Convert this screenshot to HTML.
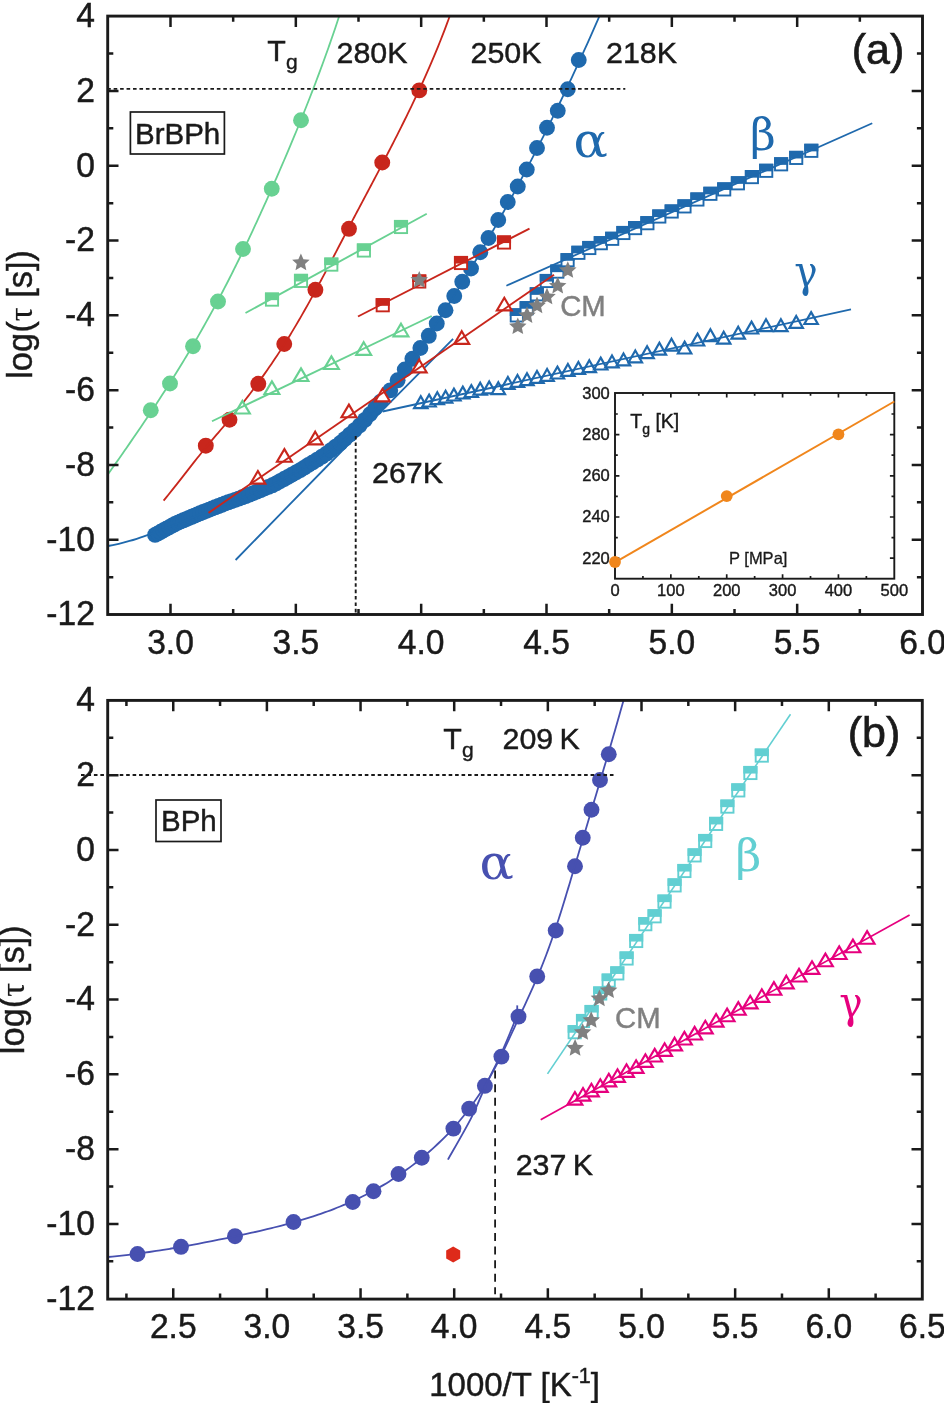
<!DOCTYPE html>
<html lang="en"><head><meta charset="utf-8"><title>Relaxation map: log(τ [s]) versus 1000/T for BrBPh and BPh</title>
<style>
html,body{margin:0;padding:0;background:#fff}
body{width:944px;height:1403px;overflow:hidden}
svg{display:block}
</style></head><body>
<svg width="944" height="1403" viewBox="0 0 944 1403">
<rect width="944" height="1403" fill="#fff"/>
<g id="panelA">
<g id="a-blue">
<circle cx="155.1" cy="534.9" r="7.95" fill="#1f69ad"/>
<circle cx="157.94" cy="533.35" r="7.95" fill="#1f69ad"/>
<circle cx="160.78" cy="531.79" r="7.95" fill="#1f69ad"/>
<circle cx="163.62" cy="530.24" r="7.95" fill="#1f69ad"/>
<circle cx="166.46" cy="528.68" r="7.95" fill="#1f69ad"/>
<circle cx="169.31" cy="527.13" r="7.95" fill="#1f69ad"/>
<circle cx="172.15" cy="525.57" r="7.95" fill="#1f69ad"/>
<circle cx="174.99" cy="524.02" r="7.95" fill="#1f69ad"/>
<circle cx="177.92" cy="522.62" r="7.95" fill="#1f69ad"/>
<circle cx="180.69" cy="521.45" r="7.95" fill="#1f69ad"/>
<circle cx="183.46" cy="520.28" r="7.95" fill="#1f69ad"/>
<circle cx="186.23" cy="519.12" r="7.95" fill="#1f69ad"/>
<circle cx="189" cy="517.95" r="7.95" fill="#1f69ad"/>
<circle cx="191.77" cy="516.78" r="7.95" fill="#1f69ad"/>
<circle cx="194.54" cy="515.62" r="7.95" fill="#1f69ad"/>
<circle cx="197.31" cy="514.45" r="7.95" fill="#1f69ad"/>
<circle cx="200.08" cy="513.28" r="7.95" fill="#1f69ad"/>
<circle cx="203.1" cy="512.05" r="7.95" fill="#1f69ad"/>
<circle cx="206.13" cy="510.87" r="7.95" fill="#1f69ad"/>
<circle cx="209.16" cy="509.69" r="7.95" fill="#1f69ad"/>
<circle cx="212.19" cy="508.5" r="7.95" fill="#1f69ad"/>
<circle cx="215.21" cy="507.32" r="7.95" fill="#1f69ad"/>
<circle cx="218.48" cy="506.05" r="7.95" fill="#1f69ad"/>
<circle cx="221.74" cy="504.77" r="7.95" fill="#1f69ad"/>
<circle cx="225" cy="503.5" r="7.95" fill="#1f69ad"/>
<circle cx="228.3" cy="502.31" r="7.95" fill="#1f69ad"/>
<circle cx="231.6" cy="501.12" r="7.95" fill="#1f69ad"/>
<circle cx="235.14" cy="499.85" r="7.95" fill="#1f69ad"/>
<circle cx="238.68" cy="498.58" r="7.95" fill="#1f69ad"/>
<circle cx="242.22" cy="497.3" r="7.95" fill="#1f69ad"/>
<circle cx="245.75" cy="496.03" r="7.95" fill="#1f69ad"/>
<circle cx="249.53" cy="494.67" r="7.95" fill="#1f69ad"/>
<circle cx="253.23" cy="493.17" r="7.95" fill="#1f69ad"/>
<circle cx="256.92" cy="491.64" r="7.95" fill="#1f69ad"/>
<circle cx="260.62" cy="490.12" r="7.95" fill="#1f69ad"/>
<circle cx="264.54" cy="488.5" r="7.95" fill="#1f69ad"/>
<circle cx="268.46" cy="486.88" r="7.95" fill="#1f69ad"/>
<circle cx="272.38" cy="485.27" r="7.95" fill="#1f69ad"/>
<circle cx="276.18" cy="483.39" r="7.95" fill="#1f69ad"/>
<circle cx="280.11" cy="481.22" r="7.95" fill="#1f69ad"/>
<circle cx="284.03" cy="479.05" r="7.95" fill="#1f69ad"/>
<circle cx="287.96" cy="476.88" r="7.95" fill="#1f69ad"/>
<circle cx="291.88" cy="474.7" r="7.95" fill="#1f69ad"/>
<circle cx="296.03" cy="472.41" r="7.95" fill="#1f69ad"/>
<circle cx="300.15" cy="470.08" r="7.95" fill="#1f69ad"/>
<circle cx="304.21" cy="467.58" r="7.95" fill="#1f69ad"/>
<circle cx="308.48" cy="464.96" r="7.95" fill="#1f69ad"/>
<circle cx="312.75" cy="462.34" r="7.95" fill="#1f69ad"/>
<circle cx="317.23" cy="459.59" r="7.95" fill="#1f69ad"/>
<circle cx="321.93" cy="456.7" r="7.95" fill="#1f69ad"/>
<circle cx="326.48" cy="453.64" r="7.95" fill="#1f69ad"/>
<circle cx="331.03" cy="450.16" r="7.95" fill="#1f69ad"/>
<circle cx="335.57" cy="446.69" r="7.95" fill="#1f69ad"/>
<circle cx="340.32" cy="443.06" r="7.95" fill="#1f69ad"/>
<circle cx="344.98" cy="438.98" r="7.95" fill="#1f69ad"/>
<circle cx="349.71" cy="434.61" r="7.95" fill="#1f69ad"/>
<circle cx="354.66" cy="430.15" r="7.95" fill="#1f69ad"/>
<circle cx="359.7" cy="425.35" r="7.95" fill="#1f69ad"/>
<circle cx="364.89" cy="419.99" r="7.95" fill="#1f69ad"/>
<circle cx="370.02" cy="414.25" r="7.95" fill="#1f69ad"/>
<circle cx="375.27" cy="408.18" r="7.95" fill="#1f69ad"/>
<circle cx="380.67" cy="401.67" r="7.95" fill="#1f69ad"/>
<circle cx="390.2" cy="390.4" r="7.95" fill="#1f69ad"/>
<circle cx="397.6" cy="380.3" r="7.95" fill="#1f69ad"/>
<circle cx="404.8" cy="369.5" r="7.95" fill="#1f69ad"/>
<circle cx="412.4" cy="358.8" r="7.95" fill="#1f69ad"/>
<circle cx="420.4" cy="348" r="7.95" fill="#1f69ad"/>
<circle cx="428.8" cy="335.8" r="7.95" fill="#1f69ad"/>
<circle cx="436.75" cy="323.5" r="7.95" fill="#1f69ad"/>
<circle cx="445.5" cy="310.25" r="7.95" fill="#1f69ad"/>
<circle cx="454.25" cy="296" r="7.95" fill="#1f69ad"/>
<circle cx="462.25" cy="281.75" r="7.95" fill="#1f69ad"/>
<circle cx="471" cy="268.5" r="7.95" fill="#1f69ad"/>
<circle cx="480.25" cy="252.25" r="7.95" fill="#1f69ad"/>
<circle cx="488.5" cy="238" r="7.95" fill="#1f69ad"/>
<circle cx="498.25" cy="220" r="7.95" fill="#1f69ad"/>
<circle cx="507.75" cy="202" r="7.95" fill="#1f69ad"/>
<circle cx="517.75" cy="186.5" r="7.95" fill="#1f69ad"/>
<circle cx="526.75" cy="169.5" r="7.95" fill="#1f69ad"/>
<circle cx="537" cy="148" r="7.95" fill="#1f69ad"/>
<circle cx="547" cy="127.75" r="7.95" fill="#1f69ad"/>
<circle cx="557.75" cy="110.75" r="7.95" fill="#1f69ad"/>
<circle cx="567.75" cy="89.25" r="7.95" fill="#1f69ad"/>
<circle cx="578.75" cy="60" r="7.95" fill="#1f69ad"/>
<path d="M420.8 396.23L427.51 408.1L414.09 408.1Z" fill="#fff" stroke="#1f69ad" stroke-width="2.2" stroke-linejoin="miter"/>
<path d="M429.1 394.63L435.81 406.5L422.39 406.5Z" fill="#fff" stroke="#1f69ad" stroke-width="2.2" stroke-linejoin="miter"/>
<path d="M437.3 392.23L444.01 404.1L430.59 404.1Z" fill="#fff" stroke="#1f69ad" stroke-width="2.2" stroke-linejoin="miter"/>
<path d="M445.6 390.83L452.31 402.7L438.89 402.7Z" fill="#fff" stroke="#1f69ad" stroke-width="2.2" stroke-linejoin="miter"/>
<path d="M453.9 388.63L460.61 400.5L447.19 400.5Z" fill="#fff" stroke="#1f69ad" stroke-width="2.2" stroke-linejoin="miter"/>
<path d="M462.8 386.63L469.51 398.5L456.09 398.5Z" fill="#fff" stroke="#1f69ad" stroke-width="2.2" stroke-linejoin="miter"/>
<path d="M471.3 385.13L478.01 397L464.59 397Z" fill="#fff" stroke="#1f69ad" stroke-width="2.2" stroke-linejoin="miter"/>
<path d="M480.2 382.83L486.91 394.7L473.49 394.7Z" fill="#fff" stroke="#1f69ad" stroke-width="2.2" stroke-linejoin="miter"/>
<path d="M489.2 381.43L495.91 393.3L482.49 393.3Z" fill="#fff" stroke="#1f69ad" stroke-width="2.2" stroke-linejoin="miter"/>
<path d="M498.3 382.33L505.01 394.2L491.59 394.2Z" fill="#fff" stroke="#1f69ad" stroke-width="2.2" stroke-linejoin="miter"/>
<path d="M507.9 377.03L514.61 388.9L501.19 388.9Z" fill="#fff" stroke="#1f69ad" stroke-width="2.2" stroke-linejoin="miter"/>
<path d="M517.5 374.93L524.21 386.8L510.79 386.8Z" fill="#fff" stroke="#1f69ad" stroke-width="2.2" stroke-linejoin="miter"/>
<path d="M527 373.23L533.71 385.1L520.29 385.1Z" fill="#fff" stroke="#1f69ad" stroke-width="2.2" stroke-linejoin="miter"/>
<path d="M537 370.93L543.71 382.8L530.29 382.8Z" fill="#fff" stroke="#1f69ad" stroke-width="2.2" stroke-linejoin="miter"/>
<path d="M547.1 368.93L553.81 380.8L540.39 380.8Z" fill="#fff" stroke="#1f69ad" stroke-width="2.2" stroke-linejoin="miter"/>
<path d="M557.4 366.63L564.11 378.5L550.69 378.5Z" fill="#fff" stroke="#1f69ad" stroke-width="2.2" stroke-linejoin="miter"/>
<path d="M567.9 364.03L574.61 375.9L561.19 375.9Z" fill="#fff" stroke="#1f69ad" stroke-width="2.2" stroke-linejoin="miter"/>
<path d="M578.4 362.03L585.11 373.9L571.69 373.9Z" fill="#fff" stroke="#1f69ad" stroke-width="2.2" stroke-linejoin="miter"/>
<path d="M589.3 360.23L596.01 372.1L582.59 372.1Z" fill="#fff" stroke="#1f69ad" stroke-width="2.2" stroke-linejoin="miter"/>
<path d="M600.7 357.63L607.41 369.5L593.99 369.5Z" fill="#fff" stroke="#1f69ad" stroke-width="2.2" stroke-linejoin="miter"/>
<path d="M612 355.43L618.71 367.3L605.29 367.3Z" fill="#fff" stroke="#1f69ad" stroke-width="2.2" stroke-linejoin="miter"/>
<path d="M623.5 353.43L630.21 365.3L616.79 365.3Z" fill="#fff" stroke="#1f69ad" stroke-width="2.2" stroke-linejoin="miter"/>
<path d="M635.3 350.43L642.01 362.3L628.59 362.3Z" fill="#fff" stroke="#1f69ad" stroke-width="2.2" stroke-linejoin="miter"/>
<path d="M647.1 346.23L653.81 358.1L640.39 358.1Z" fill="#fff" stroke="#1f69ad" stroke-width="2.2" stroke-linejoin="miter"/>
<path d="M659.4 342.83L666.11 354.7L652.69 354.7Z" fill="#fff" stroke="#1f69ad" stroke-width="2.2" stroke-linejoin="miter"/>
<path d="M671.5 338.73L678.21 350.6L664.79 350.6Z" fill="#fff" stroke="#1f69ad" stroke-width="2.2" stroke-linejoin="miter"/>
<path d="M684.6 341.63L691.31 353.5L677.89 353.5Z" fill="#fff" stroke="#1f69ad" stroke-width="2.2" stroke-linejoin="miter"/>
<path d="M697.5 333.63L704.21 345.5L690.79 345.5Z" fill="#fff" stroke="#1f69ad" stroke-width="2.2" stroke-linejoin="miter"/>
<path d="M710.4 329.23L717.11 341.1L703.69 341.1Z" fill="#fff" stroke="#1f69ad" stroke-width="2.2" stroke-linejoin="miter"/>
<path d="M723.7 331.83L730.41 343.7L716.99 343.7Z" fill="#fff" stroke="#1f69ad" stroke-width="2.2" stroke-linejoin="miter"/>
<path d="M738.2 326.83L744.91 338.7L731.49 338.7Z" fill="#fff" stroke="#1f69ad" stroke-width="2.2" stroke-linejoin="miter"/>
<path d="M751.5 321.63L758.21 333.5L744.79 333.5Z" fill="#fff" stroke="#1f69ad" stroke-width="2.2" stroke-linejoin="miter"/>
<path d="M766 319.33L772.71 331.2L759.29 331.2Z" fill="#fff" stroke="#1f69ad" stroke-width="2.2" stroke-linejoin="miter"/>
<path d="M780.9 319.33L787.61 331.2L774.19 331.2Z" fill="#fff" stroke="#1f69ad" stroke-width="2.2" stroke-linejoin="miter"/>
<path d="M796.2 316.03L802.91 327.9L789.49 327.9Z" fill="#fff" stroke="#1f69ad" stroke-width="2.2" stroke-linejoin="miter"/>
<path d="M811.1 312.13L817.81 324L804.39 324Z" fill="#fff" stroke="#1f69ad" stroke-width="2.2" stroke-linejoin="miter"/>
<rect x="510.7" y="309.3" width="12.2" height="12.2" fill="#fff" stroke="#1f69ad" stroke-width="1.9"/><path d="M509.75 308.35h14.1v7.61h-14.1z" fill="#1f69ad"/>
<rect x="520.6" y="302.1" width="12.2" height="12.2" fill="#fff" stroke="#1f69ad" stroke-width="1.9"/><path d="M519.65 301.15h14.1v7.61h-14.1z" fill="#1f69ad"/>
<rect x="530.7" y="288.2" width="12.2" height="12.2" fill="#fff" stroke="#1f69ad" stroke-width="1.9"/><path d="M529.75 287.25h14.1v7.61h-14.1z" fill="#1f69ad"/>
<rect x="540.7" y="274.9" width="12.2" height="12.2" fill="#fff" stroke="#1f69ad" stroke-width="1.9"/><path d="M539.75 273.95h14.1v7.61h-14.1z" fill="#1f69ad"/>
<rect x="551.2" y="265.5" width="12.2" height="12.2" fill="#fff" stroke="#1f69ad" stroke-width="1.9"/><path d="M550.25 264.55h14.1v7.61h-14.1z" fill="#1f69ad"/>
<rect x="561.5" y="254.1" width="12.2" height="12.2" fill="#fff" stroke="#1f69ad" stroke-width="1.9"/><path d="M560.55 253.15h14.1v7.61h-14.1z" fill="#1f69ad"/>
<rect x="572.3" y="246.7" width="12.2" height="12.2" fill="#fff" stroke="#1f69ad" stroke-width="1.9"/><path d="M571.35 245.75h14.1v7.61h-14.1z" fill="#1f69ad"/>
<rect x="583.2" y="241.9" width="12.2" height="12.2" fill="#fff" stroke="#1f69ad" stroke-width="1.9"/><path d="M582.25 240.95h14.1v7.61h-14.1z" fill="#1f69ad"/>
<rect x="594.7" y="237.1" width="12.2" height="12.2" fill="#fff" stroke="#1f69ad" stroke-width="1.9"/><path d="M593.75 236.15h14.1v7.61h-14.1z" fill="#1f69ad"/>
<rect x="606.1" y="232.7" width="12.2" height="12.2" fill="#fff" stroke="#1f69ad" stroke-width="1.9"/><path d="M605.15 231.75h14.1v7.61h-14.1z" fill="#1f69ad"/>
<rect x="617.3" y="226.9" width="12.2" height="12.2" fill="#fff" stroke="#1f69ad" stroke-width="1.9"/><path d="M616.35 225.95h14.1v7.61h-14.1z" fill="#1f69ad"/>
<rect x="629" y="222" width="12.2" height="12.2" fill="#fff" stroke="#1f69ad" stroke-width="1.9"/><path d="M628.05 221.05h14.1v7.61h-14.1z" fill="#1f69ad"/>
<rect x="641.3" y="217.1" width="12.2" height="12.2" fill="#fff" stroke="#1f69ad" stroke-width="1.9"/><path d="M640.35 216.15h14.1v7.61h-14.1z" fill="#1f69ad"/>
<rect x="653.2" y="210.4" width="12.2" height="12.2" fill="#fff" stroke="#1f69ad" stroke-width="1.9"/><path d="M652.25 209.45h14.1v7.61h-14.1z" fill="#1f69ad"/>
<rect x="665.6" y="205.4" width="12.2" height="12.2" fill="#fff" stroke="#1f69ad" stroke-width="1.9"/><path d="M664.65 204.45h14.1v7.61h-14.1z" fill="#1f69ad"/>
<rect x="678.4" y="200.3" width="12.2" height="12.2" fill="#fff" stroke="#1f69ad" stroke-width="1.9"/><path d="M677.45 199.35h14.1v7.61h-14.1z" fill="#1f69ad"/>
<rect x="691.3" y="193.4" width="12.2" height="12.2" fill="#fff" stroke="#1f69ad" stroke-width="1.9"/><path d="M690.35 192.45h14.1v7.61h-14.1z" fill="#1f69ad"/>
<rect x="704.3" y="187.7" width="12.2" height="12.2" fill="#fff" stroke="#1f69ad" stroke-width="1.9"/><path d="M703.35 186.75h14.1v7.61h-14.1z" fill="#1f69ad"/>
<rect x="718.1" y="183.3" width="12.2" height="12.2" fill="#fff" stroke="#1f69ad" stroke-width="1.9"/><path d="M717.15 182.35h14.1v7.61h-14.1z" fill="#1f69ad"/>
<rect x="731.8" y="177.2" width="12.2" height="12.2" fill="#fff" stroke="#1f69ad" stroke-width="1.9"/><path d="M730.85 176.25h14.1v7.61h-14.1z" fill="#1f69ad"/>
<rect x="745.8" y="171" width="12.2" height="12.2" fill="#fff" stroke="#1f69ad" stroke-width="1.9"/><path d="M744.85 170.05h14.1v7.61h-14.1z" fill="#1f69ad"/>
<rect x="760.1" y="164.7" width="12.2" height="12.2" fill="#fff" stroke="#1f69ad" stroke-width="1.9"/><path d="M759.15 163.75h14.1v7.61h-14.1z" fill="#1f69ad"/>
<rect x="775" y="158.2" width="12.2" height="12.2" fill="#fff" stroke="#1f69ad" stroke-width="1.9"/><path d="M774.05 157.25h14.1v7.61h-14.1z" fill="#1f69ad"/>
<rect x="790.1" y="151.8" width="12.2" height="12.2" fill="#fff" stroke="#1f69ad" stroke-width="1.9"/><path d="M789.15 150.85h14.1v7.61h-14.1z" fill="#1f69ad"/>
<rect x="805.2" y="144.7" width="12.2" height="12.2" fill="#fff" stroke="#1f69ad" stroke-width="1.9"/><path d="M804.25 143.75h14.1v7.61h-14.1z" fill="#1f69ad"/>
<path d="M108.01 546.01C109.21 545.77 112.8 545.1 115.2 544.57C117.59 544.05 119.99 543.48 122.38 542.87C124.77 542.26 127.17 541.61 129.56 540.92C131.95 540.24 134.34 539.52 136.73 538.77C139.12 538.02 141.51 537.23 143.9 536.42C146.28 535.61 148.67 534.77 151.06 533.91C153.44 533.06 155.82 532.17 158.21 531.27C160.59 530.38 162.97 529.46 165.35 528.53C167.73 527.6 170.11 526.65 172.48 525.7C174.86 524.75 177.23 523.78 179.61 522.82C181.98 521.86 184.35 520.88 186.72 519.91C189.09 518.94 191.45 517.97 193.82 517C196.18 516.04 198.55 515.07 200.91 514.12C203.27 513.17 205.63 512.23 207.98 511.29C210.34 510.35 212.7 509.42 215.05 508.5C217.4 507.57 219.75 506.65 222.1 505.72C224.44 504.8 226.79 503.88 229.13 502.95C231.47 502.02 233.81 501.09 236.15 500.14C238.48 499.2 240.82 498.26 243.15 497.3C245.48 496.33 247.8 495.36 250.13 494.38C252.45 493.39 254.78 492.39 257.09 491.37C259.41 490.36 261.72 489.32 264.03 488.27C266.34 487.22 268.64 486.16 270.93 485.07C273.22 483.98 275.51 482.88 277.78 481.76C280.06 480.64 282.33 479.5 284.58 478.34C286.84 477.18 289.09 476 291.32 474.8C293.55 473.6 295.77 472.38 297.98 471.14C300.19 469.89 302.38 468.63 304.56 467.34C306.74 466.06 308.9 464.75 311.05 463.42C313.2 462.08 315.33 460.73 317.44 459.35C319.55 457.97 321.64 456.57 323.71 455.14C325.79 453.71 327.84 452.25 329.87 450.77C331.9 449.29 333.91 447.78 335.9 446.25C337.89 444.72 339.85 443.16 341.79 441.57C343.73 439.98 345.65 438.36 347.54 436.71C349.42 435.07 351.29 433.39 353.12 431.69C354.96 429.98 356.77 428.25 358.56 426.49C360.34 424.73 362.1 422.94 363.84 421.13C365.58 419.32 367.29 417.49 368.99 415.63C370.68 413.77 372.35 411.89 374.01 409.99C375.66 408.09 377.29 406.17 378.91 404.23C380.53 402.3 382.12 400.34 383.7 398.36C385.29 396.39 386.85 394.4 388.4 392.4C389.96 390.4 391.49 388.38 393.02 386.35C394.54 384.32 396.05 382.28 397.55 380.23C399.05 378.18 400.54 376.12 402.02 374.05C403.5 371.98 404.97 369.9 406.43 367.82C407.89 365.74 409.35 363.65 410.8 361.56C412.25 359.47 413.69 357.38 415.13 355.28C416.56 353.19 418 351.09 419.42 348.98C420.85 346.88 422.27 344.78 423.69 342.67C425.11 340.56 426.52 338.45 427.93 336.34C429.33 334.23 430.73 332.11 432.13 330C433.52 327.88 434.92 325.76 436.3 323.64C437.69 321.51 439.07 319.39 440.44 317.26C441.82 315.13 443.19 313 444.56 310.87C445.92 308.73 447.28 306.6 448.64 304.46C449.99 302.32 451.34 300.18 452.69 298.04C454.04 295.9 455.38 293.75 456.71 291.6C458.05 289.45 459.38 287.3 460.71 285.15C462.03 283 463.35 280.84 464.67 278.68C465.99 276.52 467.3 274.36 468.61 272.2C469.91 270.04 471.22 267.87 472.51 265.7C473.81 263.54 475.1 261.37 476.39 259.19C477.68 257.02 478.96 254.84 480.24 252.67C481.52 250.49 482.8 248.31 484.07 246.13C485.34 243.95 486.6 241.76 487.86 239.57C489.12 237.39 490.38 235.2 491.63 233.01C492.88 230.81 494.13 228.62 495.38 226.42C496.62 224.23 497.86 222.03 499.09 219.83C500.33 217.63 501.56 215.42 502.78 213.22C504.01 211.01 505.23 208.8 506.44 206.59C507.66 204.38 508.87 202.17 510.08 199.96C511.29 197.74 512.49 195.52 513.69 193.31C514.89 191.09 516.09 188.86 517.28 186.64C518.47 184.42 519.66 182.19 520.84 179.96C522.03 177.74 523.2 175.51 524.38 173.27C525.55 171.04 526.72 168.81 527.89 166.57C529.06 164.33 530.22 162.09 531.38 159.85C532.54 157.61 533.69 155.37 534.84 153.12C535.99 150.88 537.14 148.63 538.28 146.38C539.43 144.13 540.57 141.88 541.7 139.63C542.84 137.37 543.97 135.12 545.1 132.86C546.22 130.6 547.35 128.34 548.47 126.08C549.59 123.82 550.7 121.55 551.82 119.29C552.93 117.02 554.04 114.75 555.14 112.48C556.25 110.21 557.35 107.94 558.45 105.67C559.54 103.39 560.64 101.12 561.73 98.84C562.82 96.56 563.91 94.28 564.99 92C566.07 89.72 567.15 87.43 568.23 85.15C569.3 82.86 570.38 80.57 571.45 78.28C572.52 75.99 573.58 73.7 574.64 71.41C575.71 69.11 576.77 66.82 577.82 64.52C578.88 62.22 579.93 59.92 580.98 57.62C582.03 55.32 583.07 53.02 584.11 50.71C585.16 48.41 586.2 46.1 587.23 43.79C588.27 41.48 589.3 39.17 590.33 36.86C591.36 34.55 592.38 32.23 593.41 29.92C594.43 27.6 595.45 25.28 596.47 22.96C597.48 20.64 599 17.16 599.51 16" fill="none" stroke="#1f69ad" stroke-width="1.8"/>
<path d="M235.6 560C251.93 543.25 308.98 484.62 333.6 459.5C358.22 434.38 363.38 429.4 383.3 409.3C403.22 389.2 441.47 350.63 453.1 338.9" fill="none" stroke="#1f69ad" stroke-width="1.8"/>
<path d="M506.4 285.7L872.25 123.25" fill="none" stroke="#1f69ad" stroke-width="1.8"/>
<path d="M382.6 411.5L851 309.4" fill="none" stroke="#1f69ad" stroke-width="1.8"/>
</g>
<g id="a-red">
<circle cx="419.3" cy="90.4" r="7.95" fill="#c8261c"/>
<circle cx="382.25" cy="162.5" r="7.95" fill="#c8261c"/>
<circle cx="349" cy="228.8" r="7.95" fill="#c8261c"/>
<circle cx="315.4" cy="289.8" r="7.95" fill="#c8261c"/>
<circle cx="284.25" cy="344" r="7.95" fill="#c8261c"/>
<circle cx="258.3" cy="383.8" r="7.95" fill="#c8261c"/>
<circle cx="229.5" cy="419.75" r="7.95" fill="#c8261c"/>
<circle cx="205.8" cy="445.7" r="7.95" fill="#c8261c"/>
<rect x="497.9" y="236.4" width="12.2" height="12.2" fill="#fff" stroke="#c8261c" stroke-width="1.9"/><path d="M496.95 235.45h14.1v7.61h-14.1z" fill="#c8261c"/>
<rect x="454.9" y="256.9" width="12.2" height="12.2" fill="#fff" stroke="#c8261c" stroke-width="1.9"/><path d="M453.95 255.95h14.1v7.61h-14.1z" fill="#c8261c"/>
<rect x="413.15" y="275.4" width="12.2" height="12.2" fill="#fff" stroke="#c8261c" stroke-width="1.9"/><path d="M412.2 274.45h14.1v7.61h-14.1z" fill="#c8261c"/>
<rect x="376.65" y="299.15" width="12.2" height="12.2" fill="#fff" stroke="#c8261c" stroke-width="1.9"/><path d="M375.7 298.2h14.1v7.61h-14.1z" fill="#c8261c"/>
<path d="M504.3 297.82L511.72 310.42L496.88 310.42Z" fill="#fff" stroke="#c8261c" stroke-width="2.15" stroke-linejoin="miter"/>
<path d="M461.75 331.22L469.17 343.82L454.33 343.82Z" fill="#fff" stroke="#c8261c" stroke-width="2.15" stroke-linejoin="miter"/>
<path d="M419.2 359.72L426.62 372.32L411.78 372.32Z" fill="#fff" stroke="#c8261c" stroke-width="2.15" stroke-linejoin="miter"/>
<path d="M382.5 388.82L389.92 401.42L375.08 401.42Z" fill="#fff" stroke="#c8261c" stroke-width="2.15" stroke-linejoin="miter"/>
<path d="M348.9 404.62L356.32 417.22L341.48 417.22Z" fill="#fff" stroke="#c8261c" stroke-width="2.15" stroke-linejoin="miter"/>
<path d="M315.2 431.72L322.62 444.32L307.78 444.32Z" fill="#fff" stroke="#c8261c" stroke-width="2.15" stroke-linejoin="miter"/>
<path d="M284.4 449.12L291.82 461.72L276.98 461.72Z" fill="#fff" stroke="#c8261c" stroke-width="2.15" stroke-linejoin="miter"/>
<path d="M257.9 471.02L265.32 483.62L250.48 483.62Z" fill="#fff" stroke="#c8261c" stroke-width="2.15" stroke-linejoin="miter"/>
<path d="M449.75 16C449.35 17.11 448.14 20.46 447.32 22.68C446.5 24.9 445.67 27.12 444.83 29.33C443.99 31.54 443.14 33.74 442.28 35.94C441.42 38.15 440.55 40.34 439.67 42.53C438.8 44.72 437.91 46.91 437.01 49.09C436.12 51.28 435.21 53.45 434.3 55.63C433.39 57.8 432.47 59.97 431.54 62.14C430.61 64.3 429.67 66.46 428.73 68.62C427.79 70.78 426.83 72.93 425.88 75.08C424.92 77.23 423.95 79.38 422.98 81.52C422 83.67 421.02 85.81 420.04 87.94C419.05 90.08 418.06 92.21 417.06 94.34C416.06 96.47 415.06 98.6 414.05 100.72C413.04 102.85 412.02 104.97 411 107.09C409.98 109.21 408.95 111.33 407.92 113.44C406.88 115.55 405.85 117.67 404.8 119.77C403.76 121.88 402.71 123.99 401.66 126.1C400.61 128.2 399.56 130.3 398.5 132.41C397.44 134.51 396.37 136.61 395.31 138.71C394.24 140.8 393.17 142.9 392.1 144.99C391.02 147.09 389.94 149.18 388.86 151.28C387.78 153.37 386.7 155.46 385.62 157.55C384.53 159.64 383.44 161.73 382.35 163.82C381.26 165.91 380.17 167.99 379.08 170.08C377.98 172.17 376.88 174.25 375.79 176.34C374.69 178.43 373.59 180.51 372.49 182.6C371.39 184.68 370.29 186.77 369.19 188.85C368.09 190.94 366.98 193.02 365.88 195.11C364.78 197.19 363.67 199.28 362.57 201.37C361.47 203.45 360.36 205.54 359.26 207.63C358.16 209.71 357.05 211.8 355.95 213.89C354.85 215.98 353.75 218.07 352.65 220.16C351.55 222.25 350.45 224.34 349.35 226.43C348.25 228.52 347.15 230.62 346.06 232.71C344.96 234.81 343.87 236.9 342.77 239C341.68 241.1 340.59 243.19 339.49 245.29C338.4 247.39 337.31 249.48 336.21 251.58C335.12 253.68 334.02 255.77 332.93 257.87C331.83 259.96 330.73 262.06 329.63 264.15C328.53 266.25 327.43 268.34 326.33 270.43C325.23 272.52 324.12 274.61 323.01 276.69C321.9 278.78 320.79 280.86 319.67 282.94C318.55 285.03 317.43 287.11 316.31 289.18C315.18 291.26 314.05 293.33 312.92 295.4C311.79 297.47 310.65 299.53 309.5 301.59C308.36 303.66 307.21 305.71 306.05 307.77C304.9 309.82 303.73 311.87 302.56 313.91C301.39 315.96 300.22 317.99 299.04 320.03C297.85 322.06 296.66 324.09 295.46 326.11C294.26 328.13 293.06 330.15 291.84 332.16C290.63 334.17 289.4 336.18 288.17 338.17C286.94 340.17 285.69 342.16 284.44 344.14C283.19 346.13 281.93 348.1 280.65 350.07C279.38 352.04 278.1 354 276.81 355.96C275.52 357.92 274.22 359.86 272.9 361.81C271.59 363.75 270.27 365.68 268.94 367.61C267.61 369.54 266.26 371.47 264.91 373.38C263.56 375.3 262.19 377.21 260.82 379.12C259.45 381.02 258.07 382.92 256.67 384.81C255.28 386.71 253.87 388.59 252.46 390.47C251.04 392.36 249.62 394.23 248.18 396.1C246.75 397.97 245.3 399.84 243.84 401.7C242.39 403.56 240.92 405.42 239.44 407.27C237.96 409.12 236.47 410.96 234.97 412.8C233.47 414.65 231.96 416.48 230.44 418.31C228.92 420.14 227.38 421.97 225.84 423.8C224.3 425.62 222.75 427.44 221.2 429.26C219.66 431.07 218.11 432.89 216.56 434.7C215.02 436.51 213.48 438.32 211.95 440.14C210.42 441.95 208.9 443.76 207.4 445.57C205.89 447.38 204.41 449.19 202.94 451C201.46 452.82 200.01 454.63 198.56 456.45C197.11 458.26 195.67 460.08 194.24 461.9C192.81 463.72 191.38 465.54 189.96 467.37C188.53 469.19 187.11 471.02 185.68 472.85C184.25 474.68 182.83 476.51 181.39 478.35C179.96 480.19 178.52 482.03 177.07 483.88C175.61 485.72 174.15 487.57 172.67 489.42C171.2 491.28 169.71 493.14 168.2 495C166.68 496.86 164.37 499.67 163.61 500.61" fill="none" stroke="#c8261c" stroke-width="1.8"/>
<path d="M358 316.5L529.5 228.6" fill="none" stroke="#c8261c" stroke-width="1.9"/>
<path d="M208.5 512.9L554 274.7" fill="none" stroke="#c8261c" stroke-width="1.9"/>
</g>
<g id="a-green">
<circle cx="301" cy="120.25" r="7.95" fill="#68d192"/>
<circle cx="271.75" cy="188.75" r="7.95" fill="#68d192"/>
<circle cx="243" cy="249" r="7.95" fill="#68d192"/>
<circle cx="218" cy="301.5" r="7.95" fill="#68d192"/>
<circle cx="193" cy="346.25" r="7.95" fill="#68d192"/>
<circle cx="170" cy="383.5" r="7.95" fill="#68d192"/>
<circle cx="150.75" cy="410.25" r="7.95" fill="#68d192"/>
<rect x="394.9" y="220.9" width="12.2" height="12.2" fill="#fff" stroke="#68d192" stroke-width="1.9"/><path d="M393.95 219.95h14.1v7.61h-14.1z" fill="#68d192"/>
<rect x="357.8" y="244.4" width="12.2" height="12.2" fill="#fff" stroke="#68d192" stroke-width="1.9"/><path d="M356.85 243.45h14.1v7.61h-14.1z" fill="#68d192"/>
<rect x="325.2" y="258.5" width="12.2" height="12.2" fill="#fff" stroke="#68d192" stroke-width="1.9"/><path d="M324.25 257.55h14.1v7.61h-14.1z" fill="#68d192"/>
<rect x="294.9" y="274.8" width="12.2" height="12.2" fill="#fff" stroke="#68d192" stroke-width="1.9"/><path d="M293.95 273.85h14.1v7.61h-14.1z" fill="#68d192"/>
<rect x="265.9" y="293.5" width="12.2" height="12.2" fill="#fff" stroke="#68d192" stroke-width="1.9"/><path d="M264.95 292.55h14.1v7.61h-14.1z" fill="#68d192"/>
<path d="M401 323.72L408.42 336.32L393.58 336.32Z" fill="#fff" stroke="#68d192" stroke-width="2.15" stroke-linejoin="miter"/>
<path d="M363.7 342.22L371.12 354.82L356.28 354.82Z" fill="#fff" stroke="#68d192" stroke-width="2.15" stroke-linejoin="miter"/>
<path d="M331.4 356.42L338.82 369.02L323.98 369.02Z" fill="#fff" stroke="#68d192" stroke-width="2.15" stroke-linejoin="miter"/>
<path d="M301 368.42L308.42 381.02L293.58 381.02Z" fill="#fff" stroke="#68d192" stroke-width="2.15" stroke-linejoin="miter"/>
<path d="M271.9 381.42L279.32 394.02L264.48 394.02Z" fill="#fff" stroke="#68d192" stroke-width="2.15" stroke-linejoin="miter"/>
<path d="M242.4 400.92L249.82 413.52L234.98 413.52Z" fill="#fff" stroke="#68d192" stroke-width="2.15" stroke-linejoin="miter"/>
<path d="M339.25 16C338.92 17.01 337.92 20.06 337.24 22.09C336.56 24.12 335.88 26.15 335.2 28.17C334.51 30.2 333.82 32.23 333.13 34.26C332.43 36.28 331.73 38.31 331.03 40.33C330.32 42.35 329.61 44.38 328.9 46.4C328.18 48.42 327.47 50.44 326.74 52.47C326.02 54.49 325.29 56.51 324.56 58.52C323.83 60.54 323.09 62.56 322.35 64.58C321.61 66.59 320.87 68.61 320.12 70.62C319.37 72.64 318.62 74.65 317.86 76.67C317.1 78.68 316.34 80.69 315.58 82.7C314.81 84.71 314.04 86.72 313.27 88.73C312.5 90.74 311.72 92.75 310.94 94.75C310.16 96.76 309.38 98.76 308.59 100.77C307.8 102.77 307.01 104.77 306.22 106.78C305.42 108.78 304.62 110.78 303.82 112.78C303.02 114.78 302.21 116.78 301.41 118.77C300.6 120.77 299.79 122.76 298.97 124.76C298.16 126.75 297.34 128.75 296.52 130.74C295.7 132.73 294.88 134.72 294.05 136.71C293.22 138.7 292.39 140.69 291.56 142.67C290.73 144.66 289.89 146.64 289.06 148.63C288.22 150.61 287.38 152.59 286.53 154.58C285.69 156.56 284.85 158.54 284 160.51C283.15 162.49 282.3 164.47 281.45 166.44C280.59 168.42 279.74 170.39 278.88 172.36C278.02 174.34 277.16 176.31 276.3 178.28C275.44 180.25 274.57 182.21 273.71 184.18C272.84 186.15 271.97 188.11 271.1 190.07C270.23 192.04 269.36 194 268.49 195.96C267.61 197.92 266.73 199.88 265.86 201.83C264.98 203.79 264.1 205.74 263.21 207.7C262.33 209.65 261.44 211.6 260.55 213.55C259.66 215.5 258.77 217.45 257.88 219.4C256.98 221.34 256.09 223.29 255.19 225.23C254.29 227.17 253.38 229.11 252.48 231.05C251.57 232.99 250.66 234.93 249.75 236.87C248.83 238.8 247.92 240.74 247 242.67C246.08 244.6 245.15 246.53 244.23 248.46C243.3 250.39 242.37 252.32 241.43 254.24C240.5 256.17 239.56 258.09 238.62 260.01C237.68 261.93 236.73 263.85 235.78 265.77C234.83 267.68 233.87 269.6 232.91 271.51C231.95 273.42 230.99 275.34 230.02 277.24C229.05 279.15 228.08 281.06 227.1 282.97C226.12 284.87 225.14 286.77 224.15 288.68C223.17 290.58 222.17 292.48 221.18 294.37C220.18 296.27 219.18 298.16 218.17 300.06C217.16 301.95 216.15 303.84 215.13 305.73C214.11 307.62 213.09 309.5 212.06 311.39C211.03 313.27 210 315.15 208.96 317.03C207.92 318.91 206.88 320.79 205.83 322.66C204.78 324.54 203.73 326.41 202.67 328.28C201.61 330.15 200.54 332.02 199.47 333.89C198.4 335.75 197.33 337.62 196.25 339.48C195.17 341.34 194.09 343.2 193 345.06C191.91 346.91 190.81 348.77 189.71 350.62C188.61 352.47 187.51 354.32 186.4 356.17C185.29 358.02 184.18 359.86 183.06 361.7C181.94 363.55 180.82 365.39 179.69 367.22C178.56 369.06 177.43 370.9 176.29 372.73C175.15 374.56 174.01 376.39 172.86 378.22C171.71 380.05 170.56 381.87 169.4 383.7C168.25 385.52 167.09 387.34 165.92 389.15C164.75 390.97 163.58 392.79 162.41 394.6C161.24 396.41 160.06 398.22 158.88 400.03C157.69 401.84 156.51 403.64 155.32 405.44C154.13 407.24 152.94 409.04 151.74 410.84C150.55 412.63 149.35 414.43 148.15 416.22C146.95 418.01 145.74 419.8 144.54 421.58C143.33 423.37 142.12 425.15 140.91 426.93C139.7 428.71 138.49 430.49 137.28 432.26C136.06 434.04 134.85 435.81 133.63 437.58C132.42 439.35 131.2 441.11 129.98 442.87C128.76 444.64 127.54 446.4 126.32 448.16C125.1 449.91 123.87 451.67 122.65 453.42C121.43 455.17 120.21 456.92 118.99 458.66C117.76 460.41 116.54 462.15 115.32 463.89C114.1 465.63 112.88 467.37 111.66 469.1C110.43 470.83 108.61 473.43 108 474.29" fill="none" stroke="#68d192" stroke-width="1.8"/>
<path d="M245.5 313L426.75 213.75" fill="none" stroke="#68d192" stroke-width="1.9"/>
<path d="M212 421.25L431.75 316" fill="none" stroke="#68d192" stroke-width="1.9"/>
</g>
<g id="a-cm">
<polygon points="300.9,253.5 303.44,259.2 309.65,259.86 305.01,264.04 306.31,270.14 300.9,267.02 295.49,270.14 296.79,264.04 292.15,259.86 298.36,259.2" fill="#808080"/>
<polygon points="419.25,271 421.79,276.7 428,277.36 423.36,281.54 424.66,287.64 419.25,284.52 413.84,287.64 415.14,281.54 410.5,277.36 416.71,276.7" fill="#808080"/>
<polygon points="517.8,317.4 520.34,323.1 526.55,323.76 521.91,327.94 523.21,334.04 517.8,330.92 512.39,334.04 513.69,327.94 509.05,323.76 515.26,323.1" fill="#808080"/>
<polygon points="527,306.3 529.54,312 535.75,312.66 531.11,316.84 532.41,322.94 527,319.82 521.59,322.94 522.89,316.84 518.25,312.66 524.46,312" fill="#808080"/>
<polygon points="537,296.6 539.54,302.3 545.75,302.96 541.11,307.14 542.41,313.24 537,310.12 531.59,313.24 532.89,307.14 528.25,302.96 534.46,302.3" fill="#808080"/>
<polygon points="547,287.7 549.54,293.4 555.75,294.06 551.11,298.24 552.41,304.34 547,301.22 541.59,304.34 542.89,298.24 538.25,294.06 544.46,293.4" fill="#808080"/>
<polygon points="557.7,276.8 560.24,282.5 566.45,283.16 561.81,287.34 563.11,293.44 557.7,290.32 552.29,293.44 553.59,287.34 548.95,283.16 555.16,282.5" fill="#808080"/>
<polygon points="567.8,261.2 570.34,266.9 576.55,267.56 571.91,271.74 573.21,277.84 567.8,274.72 562.39,277.84 563.69,271.74 559.05,267.56 565.26,266.9" fill="#808080"/>
</g>
<path d="M107.2 88.9L625.3 88.9" fill="none" stroke="#1a1a1a" stroke-width="1.8" stroke-dasharray="3.6 2.85"/>
<path d="M355.7 436L355.7 614" fill="none" stroke="#1a1a1a" stroke-width="1.9" stroke-dasharray="3.6 2.8"/>
<rect x="107.7" y="16.1" width="814.8" height="598.4" fill="none" stroke="#1a1a1a" stroke-width="2.9"/>
<path d="M170.5 16.1v10.8M170.5 614.5v-10.8M295.83 16.1v10.8M295.83 614.5v-10.8M421.17 16.1v10.8M421.17 614.5v-10.8M546.5 16.1v10.8M546.5 614.5v-10.8M671.84 16.1v10.8M671.84 614.5v-10.8M797.17 16.1v10.8M797.17 614.5v-10.8M233.17 16.1v5.6M233.17 614.5v-5.6M358.5 16.1v5.6M358.5 614.5v-5.6M483.84 16.1v5.6M483.84 614.5v-5.6M609.17 16.1v5.6M609.17 614.5v-5.6M734.51 16.1v5.6M734.51 614.5v-5.6M859.84 16.1v5.6M859.84 614.5v-5.6M107.7 90.95h10.8M922.5 90.95h-10.8M107.7 165.75h10.8M922.5 165.75h-10.8M107.7 240.55h10.8M922.5 240.55h-10.8M107.7 315.35h10.8M922.5 315.35h-10.8M107.7 390.15h10.8M922.5 390.15h-10.8M107.7 464.95h10.8M922.5 464.95h-10.8M107.7 539.75h10.8M922.5 539.75h-10.8M107.7 53.55h5.6M922.5 53.55h-5.6M107.7 128.35h5.6M922.5 128.35h-5.6M107.7 203.15h5.6M922.5 203.15h-5.6M107.7 277.95h5.6M922.5 277.95h-5.6M107.7 352.75h5.6M922.5 352.75h-5.6M107.7 427.55h5.6M922.5 427.55h-5.6M107.7 502.35h5.6M922.5 502.35h-5.6M107.7 577.15h5.6M922.5 577.15h-5.6" fill="none" stroke="#1a1a1a" stroke-width="2.5"/>
<text transform="translate(94.9 26.95) scale(1 1.06)" font-family='"Liberation Sans", sans-serif' font-size="33.6" fill="#1a1a1a" stroke="#1a1a1a" stroke-width="0.45" text-anchor="end">4</text>
<text transform="translate(94.9 101.75) scale(1 1.06)" font-family='"Liberation Sans", sans-serif' font-size="33.6" fill="#1a1a1a" stroke="#1a1a1a" stroke-width="0.45" text-anchor="end">2</text>
<text transform="translate(94.9 176.55) scale(1 1.06)" font-family='"Liberation Sans", sans-serif' font-size="33.6" fill="#1a1a1a" stroke="#1a1a1a" stroke-width="0.45" text-anchor="end">0</text>
<text transform="translate(94.9 251.35) scale(1 1.06)" font-family='"Liberation Sans", sans-serif' font-size="33.6" fill="#1a1a1a" stroke="#1a1a1a" stroke-width="0.45" text-anchor="end">-2</text>
<text transform="translate(94.9 326.15) scale(1 1.06)" font-family='"Liberation Sans", sans-serif' font-size="33.6" fill="#1a1a1a" stroke="#1a1a1a" stroke-width="0.45" text-anchor="end">-4</text>
<text transform="translate(94.9 400.95) scale(1 1.06)" font-family='"Liberation Sans", sans-serif' font-size="33.6" fill="#1a1a1a" stroke="#1a1a1a" stroke-width="0.45" text-anchor="end">-6</text>
<text transform="translate(94.9 475.75) scale(1 1.06)" font-family='"Liberation Sans", sans-serif' font-size="33.6" fill="#1a1a1a" stroke="#1a1a1a" stroke-width="0.45" text-anchor="end">-8</text>
<text transform="translate(94.9 550.55) scale(1 1.06)" font-family='"Liberation Sans", sans-serif' font-size="33.6" fill="#1a1a1a" stroke="#1a1a1a" stroke-width="0.45" text-anchor="end">-10</text>
<text transform="translate(94.9 625.35) scale(1 1.06)" font-family='"Liberation Sans", sans-serif' font-size="33.6" fill="#1a1a1a" stroke="#1a1a1a" stroke-width="0.45" text-anchor="end">-12</text>
<text transform="translate(170.5 653.6) scale(1 1.06)" font-family='"Liberation Sans", sans-serif' font-size="33.6" fill="#1a1a1a" stroke="#1a1a1a" stroke-width="0.45" text-anchor="middle">3.0</text>
<text transform="translate(295.83 653.6) scale(1 1.06)" font-family='"Liberation Sans", sans-serif' font-size="33.6" fill="#1a1a1a" stroke="#1a1a1a" stroke-width="0.45" text-anchor="middle">3.5</text>
<text transform="translate(421.17 653.6) scale(1 1.06)" font-family='"Liberation Sans", sans-serif' font-size="33.6" fill="#1a1a1a" stroke="#1a1a1a" stroke-width="0.45" text-anchor="middle">4.0</text>
<text transform="translate(546.5 653.6) scale(1 1.06)" font-family='"Liberation Sans", sans-serif' font-size="33.6" fill="#1a1a1a" stroke="#1a1a1a" stroke-width="0.45" text-anchor="middle">4.5</text>
<text transform="translate(671.84 653.6) scale(1 1.06)" font-family='"Liberation Sans", sans-serif' font-size="33.6" fill="#1a1a1a" stroke="#1a1a1a" stroke-width="0.45" text-anchor="middle">5.0</text>
<text transform="translate(797.17 653.6) scale(1 1.06)" font-family='"Liberation Sans", sans-serif' font-size="33.6" fill="#1a1a1a" stroke="#1a1a1a" stroke-width="0.45" text-anchor="middle">5.5</text>
<text transform="translate(922.51 653.6) scale(1 1.06)" font-family='"Liberation Sans", sans-serif' font-size="33.6" fill="#1a1a1a" stroke="#1a1a1a" stroke-width="0.45" text-anchor="middle">6.0</text>
<text transform="translate(32.1 378.8) rotate(-90)" font-family='"Liberation Sans", sans-serif' font-size="34.5" fill="#1a1a1a" stroke="#1a1a1a" stroke-width="0.45">log(<tspan font-family='"Liberation Serif", serif' stroke-width="0.2">τ</tspan> [s])</text>
<text x="267.3" y="60.9" font-family='"Liberation Sans", sans-serif' font-size="30.4" fill="#1a1a1a" stroke="#1a1a1a" stroke-width="0.4">T<tspan font-size="21" dy="8">g</tspan></text>
<text x="336.5" y="62.6" font-family='"Liberation Sans", sans-serif' font-size="30.4" fill="#1a1a1a" stroke="#1a1a1a" stroke-width="0.45" text-anchor="start">280K</text>
<text x="470.5" y="62.6" font-family='"Liberation Sans", sans-serif' font-size="30.4" fill="#1a1a1a" stroke="#1a1a1a" stroke-width="0.45" text-anchor="start">250K</text>
<text x="606" y="62.6" font-family='"Liberation Sans", sans-serif' font-size="30.4" fill="#1a1a1a" stroke="#1a1a1a" stroke-width="0.45" text-anchor="start">218K</text>
<text x="372" y="483.4" font-family='"Liberation Sans", sans-serif' font-size="30.4" fill="#1a1a1a" stroke="#1a1a1a" stroke-width="0.45" text-anchor="start">267K</text>
<rect x="130.4" y="112" width="94" height="42" fill="none" stroke="#1a1a1a" stroke-width="1.7"/>
<text x="135" y="143.9" font-family='"Liberation Sans", sans-serif' font-size="29.5" fill="#1a1a1a" stroke="#1a1a1a" stroke-width="0.45" text-anchor="start">BrBPh</text>
<text x="851.8" y="64.4" font-family='"Liberation Sans", sans-serif' font-size="43" fill="#1a1a1a" stroke="#1a1a1a" stroke-width="0.7" text-anchor="start">(a)</text>
<text x="560.2" y="315.8" font-family='"Liberation Sans", sans-serif' font-size="29.3" fill="#808080" stroke="#808080" stroke-width="0.45" text-anchor="start">CM</text>
<text transform="translate(573.4 156.6) scale(1.06 1)" font-family='"DejaVu Serif", "Liberation Serif", serif' font-size="48" fill="#1f69ad">α</text>
<text transform="translate(749.9 150.2) scale(1 1)" font-family='"DejaVu Serif", "Liberation Serif", serif' font-size="44.5" fill="#1f69ad">β</text>
<text transform="translate(794.2 287) scale(0.88 1)" font-family='"DejaVu Serif", "Liberation Serif", serif' font-size="44.4" fill="#1f69ad">γ</text>
<rect x="615" y="393" width="279.3" height="185.7" fill="none" stroke="#1a1a1a" stroke-width="1.9"/>
<path d="M670.86 393v4.4M670.86 578.7v-4.4M726.72 393v4.4M726.72 578.7v-4.4M782.58 393v4.4M782.58 578.7v-4.4M838.44 393v4.4M838.44 578.7v-4.4M642.93 393v2.8M642.93 578.7v-2.8M698.79 393v2.8M698.79 578.7v-2.8M754.65 393v2.8M754.65 578.7v-2.8M810.51 393v2.8M810.51 578.7v-2.8M866.37 393v2.8M866.37 578.7v-2.8M615 558.2h4.4M894.3 558.2h-4.4M615 517h4.4M894.3 517h-4.4M615 475.8h4.4M894.3 475.8h-4.4M615 434.6h4.4M894.3 434.6h-4.4M615 537.6h2.8M894.3 537.6h-2.8M615 496.4h2.8M894.3 496.4h-2.8M615 455.2h2.8M894.3 455.2h-2.8M615 414h2.8M894.3 414h-2.8" fill="none" stroke="#1a1a1a" stroke-width="1.7"/>
<path d="M615 562.32L894.3 401.5" fill="none" stroke="#f0861c" stroke-width="2"/>
<circle cx="615" cy="562.02" r="5.9" fill="#f0861c"/>
<circle cx="726.72" cy="496.1" r="5.9" fill="#f0861c"/>
<circle cx="838.44" cy="434.3" r="5.9" fill="#f0861c"/>
<text x="609.8" y="563.5" font-family='"Liberation Sans", sans-serif' font-size="16.5" fill="#1a1a1a" stroke="#1a1a1a" stroke-width="0.4" text-anchor="end">220</text>
<text x="609.8" y="522.3" font-family='"Liberation Sans", sans-serif' font-size="16.5" fill="#1a1a1a" stroke="#1a1a1a" stroke-width="0.4" text-anchor="end">240</text>
<text x="609.8" y="481.1" font-family='"Liberation Sans", sans-serif' font-size="16.5" fill="#1a1a1a" stroke="#1a1a1a" stroke-width="0.4" text-anchor="end">260</text>
<text x="609.8" y="439.9" font-family='"Liberation Sans", sans-serif' font-size="16.5" fill="#1a1a1a" stroke="#1a1a1a" stroke-width="0.4" text-anchor="end">280</text>
<text x="609.8" y="398.7" font-family='"Liberation Sans", sans-serif' font-size="16.5" fill="#1a1a1a" stroke="#1a1a1a" stroke-width="0.4" text-anchor="end">300</text>
<text x="615" y="596.4" font-family='"Liberation Sans", sans-serif' font-size="16.5" fill="#1a1a1a" stroke="#1a1a1a" stroke-width="0.4" text-anchor="middle">0</text>
<text x="670.86" y="596.4" font-family='"Liberation Sans", sans-serif' font-size="16.5" fill="#1a1a1a" stroke="#1a1a1a" stroke-width="0.4" text-anchor="middle">100</text>
<text x="726.72" y="596.4" font-family='"Liberation Sans", sans-serif' font-size="16.5" fill="#1a1a1a" stroke="#1a1a1a" stroke-width="0.4" text-anchor="middle">200</text>
<text x="782.58" y="596.4" font-family='"Liberation Sans", sans-serif' font-size="16.5" fill="#1a1a1a" stroke="#1a1a1a" stroke-width="0.4" text-anchor="middle">300</text>
<text x="838.44" y="596.4" font-family='"Liberation Sans", sans-serif' font-size="16.5" fill="#1a1a1a" stroke="#1a1a1a" stroke-width="0.4" text-anchor="middle">400</text>
<text x="894.3" y="596.4" font-family='"Liberation Sans", sans-serif' font-size="16.5" fill="#1a1a1a" stroke="#1a1a1a" stroke-width="0.4" text-anchor="middle">500</text>
<text x="630.3" y="428.2" font-family='"Liberation Sans", sans-serif' font-size="19.5" fill="#1a1a1a" stroke="#1a1a1a" stroke-width="0.4">T<tspan font-size="14" dy="6">g</tspan><tspan dy="-6"> [K]</tspan></text>
<text x="729" y="564.2" font-family='"Liberation Sans", sans-serif' font-size="16.5" fill="#1a1a1a" stroke="#1a1a1a" stroke-width="0.3" text-anchor="start">P [MPa]</text>
</g>
<g id="panelB">
<g id="b-alpha">
<circle cx="137.5" cy="1254" r="7.95" fill="#4750b0"/>
<circle cx="181" cy="1246.8" r="7.95" fill="#4750b0"/>
<circle cx="235" cy="1236.2" r="7.95" fill="#4750b0"/>
<circle cx="293.5" cy="1222" r="7.95" fill="#4750b0"/>
<circle cx="352.75" cy="1202" r="7.95" fill="#4750b0"/>
<circle cx="373.5" cy="1191.25" r="7.95" fill="#4750b0"/>
<circle cx="398.5" cy="1174" r="7.95" fill="#4750b0"/>
<circle cx="421.75" cy="1157.75" r="7.95" fill="#4750b0"/>
<circle cx="453.4" cy="1128.6" r="7.95" fill="#4750b0"/>
<circle cx="469.2" cy="1108.6" r="7.95" fill="#4750b0"/>
<circle cx="484.9" cy="1085.8" r="7.95" fill="#4750b0"/>
<circle cx="501.4" cy="1056.6" r="7.95" fill="#4750b0"/>
<circle cx="518.5" cy="1016.6" r="7.95" fill="#4750b0"/>
<circle cx="537.2" cy="976.4" r="7.95" fill="#4750b0"/>
<circle cx="555.7" cy="930.5" r="7.95" fill="#4750b0"/>
<circle cx="575" cy="866.25" r="7.95" fill="#4750b0"/>
<circle cx="582.75" cy="837.75" r="7.95" fill="#4750b0"/>
<circle cx="591.5" cy="809.75" r="7.95" fill="#4750b0"/>
<circle cx="600" cy="780" r="7.95" fill="#4750b0"/>
<circle cx="608.75" cy="754.25" r="7.95" fill="#4750b0"/>
<path d="M108.01 1257C109.15 1256.89 112.55 1256.56 114.83 1256.32C117.11 1256.08 119.39 1255.84 121.67 1255.58C123.96 1255.32 126.25 1255.05 128.54 1254.77C130.83 1254.49 133.13 1254.2 135.43 1253.9C137.72 1253.6 140.03 1253.3 142.33 1252.98C144.63 1252.66 146.94 1252.33 149.25 1252C151.56 1251.66 153.87 1251.32 156.18 1250.97C158.49 1250.62 160.81 1250.26 163.12 1249.89C165.44 1249.52 167.76 1249.14 170.08 1248.76C172.39 1248.38 174.71 1247.98 177.03 1247.59C179.35 1247.19 181.68 1246.78 184 1246.37C186.32 1245.96 188.64 1245.54 190.96 1245.11C193.28 1244.69 195.61 1244.26 197.93 1243.82C200.25 1243.38 202.57 1242.94 204.89 1242.49C207.21 1242.04 209.53 1241.59 211.85 1241.13C214.16 1240.67 216.48 1240.2 218.8 1239.73C221.11 1239.26 223.42 1238.79 225.74 1238.31C228.05 1237.83 230.36 1237.35 232.67 1236.86C234.97 1236.38 237.28 1235.89 239.58 1235.39C241.88 1234.89 244.18 1234.4 246.48 1233.89C248.78 1233.39 251.07 1232.88 253.36 1232.36C255.65 1231.84 257.94 1231.32 260.22 1230.79C262.51 1230.26 264.79 1229.72 267.06 1229.17C269.34 1228.62 271.61 1228.07 273.88 1227.5C276.14 1226.93 278.4 1226.36 280.66 1225.77C282.92 1225.18 285.17 1224.59 287.42 1223.98C289.67 1223.37 291.91 1222.74 294.14 1222.11C296.38 1221.47 298.61 1220.83 300.83 1220.17C303.06 1219.5 305.28 1218.83 307.49 1218.14C309.7 1217.45 311.91 1216.74 314.11 1216.02C316.3 1215.29 318.5 1214.56 320.68 1213.8C322.87 1213.04 325.04 1212.27 327.21 1211.48C329.38 1210.69 331.55 1209.88 333.7 1209.05C335.86 1208.22 338 1207.37 340.14 1206.5C342.28 1205.63 344.41 1204.74 346.53 1203.83C348.65 1202.92 350.77 1201.99 352.87 1201.03C354.97 1200.07 357.07 1199.1 359.15 1198.09C361.24 1197.09 363.32 1196.06 365.38 1195.01C367.45 1193.96 369.51 1192.89 371.55 1191.79C373.6 1190.68 375.63 1189.56 377.66 1188.4C379.69 1187.25 381.7 1186.07 383.7 1184.87C385.71 1183.67 387.7 1182.44 389.68 1181.19C391.66 1179.94 393.62 1178.66 395.58 1177.36C397.53 1176.07 399.47 1174.75 401.4 1173.4C403.32 1172.06 405.23 1170.7 407.13 1169.31C409.03 1167.93 410.91 1166.52 412.78 1165.1C414.65 1163.67 416.5 1162.22 418.33 1160.76C420.17 1159.3 421.99 1157.81 423.79 1156.31C425.59 1154.81 427.38 1153.29 429.14 1151.75C430.91 1150.21 432.66 1148.65 434.39 1147.07C436.12 1145.49 437.83 1143.88 439.53 1142.26C441.22 1140.64 442.89 1139 444.55 1137.33C446.2 1135.67 447.83 1133.98 449.44 1132.27C451.05 1130.56 452.65 1128.83 454.21 1127.07C455.78 1125.32 457.33 1123.54 458.85 1121.74C460.38 1119.94 461.88 1118.11 463.36 1116.28C464.84 1114.44 466.29 1112.58 467.73 1110.7C469.16 1108.83 470.56 1106.93 471.95 1105.03C473.33 1103.12 474.69 1101.2 476.02 1099.27C477.35 1097.33 478.65 1095.39 479.93 1093.43C481.21 1091.47 482.47 1089.51 483.69 1087.53C484.92 1085.56 486.11 1083.57 487.29 1081.58C488.46 1079.59 489.61 1077.59 490.73 1075.58C491.86 1073.58 492.96 1071.56 494.04 1069.54C495.12 1067.52 496.18 1065.49 497.23 1063.46C498.28 1061.43 499.31 1059.38 500.33 1057.34C501.35 1055.29 502.35 1053.24 503.35 1051.17C504.34 1049.11 505.33 1047.05 506.31 1044.97C507.29 1042.9 508.26 1040.82 509.23 1038.74C510.19 1036.65 511.16 1034.56 512.12 1032.46C513.09 1030.37 514.05 1028.26 515.02 1026.16C515.99 1024.05 516.96 1021.94 517.93 1019.82C518.91 1017.7 519.89 1015.57 520.88 1013.45C521.87 1011.32 522.86 1009.18 523.85 1007.05C524.85 1004.91 525.84 1002.77 526.83 1000.62C527.82 998.47 528.82 996.32 529.8 994.16C530.78 992.01 531.76 989.85 532.73 987.68C533.69 985.52 534.65 983.35 535.59 981.18C536.54 979.01 537.47 976.83 538.38 974.65C539.29 972.47 540.19 970.29 541.07 968.1C541.96 965.92 542.82 963.73 543.68 961.53C544.53 959.34 545.37 957.15 546.2 954.95C547.02 952.75 547.84 950.55 548.64 948.34C549.44 946.14 550.23 943.93 551.01 941.73C551.79 939.52 552.56 937.31 553.32 935.09C554.08 932.88 554.83 930.66 555.57 928.45C556.31 926.23 557.04 924.01 557.76 921.79C558.49 919.57 559.2 917.35 559.91 915.12C560.62 912.9 561.32 910.67 562.02 908.45C562.71 906.22 563.4 903.99 564.09 901.76C564.78 899.54 565.46 897.31 566.13 895.08C566.81 892.85 567.48 890.61 568.15 888.38C568.83 886.15 569.49 883.92 570.16 881.69C570.82 879.46 571.49 877.22 572.15 874.99C572.82 872.76 573.48 870.53 574.14 868.29C574.8 866.06 575.47 863.83 576.13 861.6C576.79 859.37 577.46 857.14 578.12 854.9C578.79 852.67 579.45 850.44 580.12 848.21C580.78 845.98 581.45 843.75 582.11 841.52C582.78 839.29 583.44 837.06 584.11 834.83C584.78 832.6 585.44 830.37 586.11 828.14C586.77 825.9 587.44 823.67 588.11 821.44C588.77 819.21 589.44 816.98 590.11 814.75C590.77 812.52 591.44 810.29 592.1 808.06C592.77 805.83 593.43 803.59 594.1 801.36C594.76 799.13 595.43 796.9 596.09 794.67C596.76 792.43 597.42 790.2 598.08 787.97C598.75 785.73 599.41 783.5 600.07 781.26C600.73 779.03 601.4 776.79 602.06 774.56C602.72 772.32 603.38 770.09 604.04 767.85C604.7 765.61 605.36 763.38 606.01 761.14C606.67 758.9 607.33 756.66 607.99 754.42C608.64 752.18 609.3 749.94 609.95 747.7C610.61 745.46 611.26 743.22 611.91 740.98C612.56 738.73 613.21 736.49 613.86 734.25C614.51 732 615.16 729.76 615.81 727.51C616.45 725.26 617.1 723.02 617.75 720.77C618.39 718.52 619.03 716.27 619.67 714.02C620.32 711.77 620.96 709.52 621.59 707.26C622.23 705.01 623.19 701.63 623.5 700.5" fill="none" stroke="#4750b0" stroke-width="1.8"/>
<path d="M447.9 1159.6C451.75 1152.72 464.77 1130.48 471 1118.3C477.23 1106.12 480.48 1096.83 485.3 1086.5C490.12 1076.17 495.78 1065.22 499.9 1056.3C504.02 1047.38 507.27 1039.62 510 1033C512.73 1026.38 515.08 1021.2 516.3 1016.6C517.52 1012 517.13 1007.27 517.3 1005.4" fill="none" stroke="#4750b0" stroke-width="1.8"/>
</g>
<g id="b-beta">
<rect x="568.6" y="1026.1" width="12.2" height="12.2" fill="#fff" stroke="#62cfd2" stroke-width="1.9"/><path d="M567.65 1025.15h14.1v7.61h-14.1z" fill="#62cfd2"/>
<rect x="576.9" y="1014.9" width="12.2" height="12.2" fill="#fff" stroke="#62cfd2" stroke-width="1.9"/><path d="M575.95 1013.95h14.1v7.61h-14.1z" fill="#62cfd2"/>
<rect x="585.5" y="1005.9" width="12.2" height="12.2" fill="#fff" stroke="#62cfd2" stroke-width="1.9"/><path d="M584.55 1004.95h14.1v7.61h-14.1z" fill="#62cfd2"/>
<rect x="594.1" y="987.4" width="12.2" height="12.2" fill="#fff" stroke="#62cfd2" stroke-width="1.9"/><path d="M593.15 986.45h14.1v7.61h-14.1z" fill="#62cfd2"/>
<rect x="602.6" y="974.5" width="12.2" height="12.2" fill="#fff" stroke="#62cfd2" stroke-width="1.9"/><path d="M601.65 973.55h14.1v7.61h-14.1z" fill="#62cfd2"/>
<rect x="611.2" y="967.3" width="12.2" height="12.2" fill="#fff" stroke="#62cfd2" stroke-width="1.9"/><path d="M610.25 966.35h14.1v7.61h-14.1z" fill="#62cfd2"/>
<rect x="620.5" y="952.4" width="12.2" height="12.2" fill="#fff" stroke="#62cfd2" stroke-width="1.9"/><path d="M619.55 951.45h14.1v7.61h-14.1z" fill="#62cfd2"/>
<rect x="630.1" y="934.9" width="12.2" height="12.2" fill="#fff" stroke="#62cfd2" stroke-width="1.9"/><path d="M629.15 933.95h14.1v7.61h-14.1z" fill="#62cfd2"/>
<rect x="639.2" y="918.1" width="12.2" height="12.2" fill="#fff" stroke="#62cfd2" stroke-width="1.9"/><path d="M638.25 917.15h14.1v7.61h-14.1z" fill="#62cfd2"/>
<rect x="648.5" y="910.2" width="12.2" height="12.2" fill="#fff" stroke="#62cfd2" stroke-width="1.9"/><path d="M647.55 909.25h14.1v7.61h-14.1z" fill="#62cfd2"/>
<rect x="658.4" y="895.5" width="12.2" height="12.2" fill="#fff" stroke="#62cfd2" stroke-width="1.9"/><path d="M657.45 894.55h14.1v7.61h-14.1z" fill="#62cfd2"/>
<rect x="668.5" y="879.3" width="12.2" height="12.2" fill="#fff" stroke="#62cfd2" stroke-width="1.9"/><path d="M667.55 878.35h14.1v7.61h-14.1z" fill="#62cfd2"/>
<rect x="678.3" y="864.9" width="12.2" height="12.2" fill="#fff" stroke="#62cfd2" stroke-width="1.9"/><path d="M677.35 863.95h14.1v7.61h-14.1z" fill="#62cfd2"/>
<rect x="688.5" y="849.3" width="12.2" height="12.2" fill="#fff" stroke="#62cfd2" stroke-width="1.9"/><path d="M687.55 848.35h14.1v7.61h-14.1z" fill="#62cfd2"/>
<rect x="699.1" y="834.9" width="12.2" height="12.2" fill="#fff" stroke="#62cfd2" stroke-width="1.9"/><path d="M698.15 833.95h14.1v7.61h-14.1z" fill="#62cfd2"/>
<rect x="710" y="817.8" width="12.2" height="12.2" fill="#fff" stroke="#62cfd2" stroke-width="1.9"/><path d="M709.05 816.85h14.1v7.61h-14.1z" fill="#62cfd2"/>
<rect x="721.3" y="800.5" width="12.2" height="12.2" fill="#fff" stroke="#62cfd2" stroke-width="1.9"/><path d="M720.35 799.55h14.1v7.61h-14.1z" fill="#62cfd2"/>
<rect x="732.2" y="784.3" width="12.2" height="12.2" fill="#fff" stroke="#62cfd2" stroke-width="1.9"/><path d="M731.25 783.35h14.1v7.61h-14.1z" fill="#62cfd2"/>
<rect x="744.3" y="766.9" width="12.2" height="12.2" fill="#fff" stroke="#62cfd2" stroke-width="1.9"/><path d="M743.35 765.95h14.1v7.61h-14.1z" fill="#62cfd2"/>
<rect x="755.7" y="749.5" width="12.2" height="12.2" fill="#fff" stroke="#62cfd2" stroke-width="1.9"/><path d="M754.75 748.55h14.1v7.61h-14.1z" fill="#62cfd2"/>
<path d="M547.5 1073.9L790.5 714.25" fill="none" stroke="#62cfd2" stroke-width="1.6"/>
</g>
<g id="b-gamma">
<path d="M574.9 1092.02L582.32 1104.63L567.48 1104.63Z" fill="#fff" stroke="#e6007e" stroke-width="2.15" stroke-linejoin="miter"/>
<path d="M583 1088.02L590.42 1100.63L575.58 1100.63Z" fill="#fff" stroke="#e6007e" stroke-width="2.15" stroke-linejoin="miter"/>
<path d="M591.4 1083.82L598.82 1096.43L583.98 1096.43Z" fill="#fff" stroke="#e6007e" stroke-width="2.15" stroke-linejoin="miter"/>
<path d="M600.3 1079.32L607.72 1091.93L592.88 1091.93Z" fill="#fff" stroke="#e6007e" stroke-width="2.15" stroke-linejoin="miter"/>
<path d="M608.8 1073.82L616.22 1086.43L601.38 1086.43Z" fill="#fff" stroke="#e6007e" stroke-width="2.15" stroke-linejoin="miter"/>
<path d="M617.5 1069.32L624.92 1081.93L610.08 1081.93Z" fill="#fff" stroke="#e6007e" stroke-width="2.15" stroke-linejoin="miter"/>
<path d="M626.5 1064.32L633.92 1076.93L619.08 1076.93Z" fill="#fff" stroke="#e6007e" stroke-width="2.15" stroke-linejoin="miter"/>
<path d="M636.1 1060.32L643.52 1072.93L628.68 1072.93Z" fill="#fff" stroke="#e6007e" stroke-width="2.15" stroke-linejoin="miter"/>
<path d="M645.4 1054.32L652.82 1066.93L637.98 1066.93Z" fill="#fff" stroke="#e6007e" stroke-width="2.15" stroke-linejoin="miter"/>
<path d="M654.7 1048.92L662.12 1061.53L647.28 1061.53Z" fill="#fff" stroke="#e6007e" stroke-width="2.15" stroke-linejoin="miter"/>
<path d="M664.6 1043.32L672.02 1055.93L657.18 1055.93Z" fill="#fff" stroke="#e6007e" stroke-width="2.15" stroke-linejoin="miter"/>
<path d="M674.6 1037.72L682.02 1050.33L667.18 1050.33Z" fill="#fff" stroke="#e6007e" stroke-width="2.15" stroke-linejoin="miter"/>
<path d="M684.4 1031.92L691.82 1044.53L676.98 1044.53Z" fill="#fff" stroke="#e6007e" stroke-width="2.15" stroke-linejoin="miter"/>
<path d="M694.6 1026.92L702.02 1039.53L687.18 1039.53Z" fill="#fff" stroke="#e6007e" stroke-width="2.15" stroke-linejoin="miter"/>
<path d="M705.3 1020.82L712.72 1033.43L697.88 1033.43Z" fill="#fff" stroke="#e6007e" stroke-width="2.15" stroke-linejoin="miter"/>
<path d="M716.1 1014.02L723.52 1026.62L708.68 1026.62Z" fill="#fff" stroke="#e6007e" stroke-width="2.15" stroke-linejoin="miter"/>
<path d="M727.1 1008.62L734.52 1021.23L719.68 1021.23Z" fill="#fff" stroke="#e6007e" stroke-width="2.15" stroke-linejoin="miter"/>
<path d="M738.3 1002.12L745.72 1014.73L730.88 1014.73Z" fill="#fff" stroke="#e6007e" stroke-width="2.15" stroke-linejoin="miter"/>
<path d="M750.2 995.82L757.62 1008.43L742.78 1008.43Z" fill="#fff" stroke="#e6007e" stroke-width="2.15" stroke-linejoin="miter"/>
<path d="M761.8 989.32L769.22 1001.93L754.38 1001.93Z" fill="#fff" stroke="#e6007e" stroke-width="2.15" stroke-linejoin="miter"/>
<path d="M773.9 982.12L781.32 994.73L766.48 994.73Z" fill="#fff" stroke="#e6007e" stroke-width="2.15" stroke-linejoin="miter"/>
<path d="M786.3 975.72L793.72 988.33L778.88 988.33Z" fill="#fff" stroke="#e6007e" stroke-width="2.15" stroke-linejoin="miter"/>
<path d="M799 968.92L806.42 981.52L791.58 981.52Z" fill="#fff" stroke="#e6007e" stroke-width="2.15" stroke-linejoin="miter"/>
<path d="M812 961.32L819.42 973.93L804.58 973.93Z" fill="#fff" stroke="#e6007e" stroke-width="2.15" stroke-linejoin="miter"/>
<path d="M825.4 953.62L832.82 966.23L817.98 966.23Z" fill="#fff" stroke="#e6007e" stroke-width="2.15" stroke-linejoin="miter"/>
<path d="M839.2 946.42L846.62 959.02L831.78 959.02Z" fill="#fff" stroke="#e6007e" stroke-width="2.15" stroke-linejoin="miter"/>
<path d="M852.9 939.62L860.32 952.23L845.48 952.23Z" fill="#fff" stroke="#e6007e" stroke-width="2.15" stroke-linejoin="miter"/>
<path d="M867.1 931.12L874.52 943.73L859.68 943.73Z" fill="#fff" stroke="#e6007e" stroke-width="2.15" stroke-linejoin="miter"/>
<path d="M540.7 1119.7L909.6 915" fill="none" stroke="#e6007e" stroke-width="1.7"/>
</g>
<g id="b-cm">
<polygon points="608.6,981.4 611.14,987.1 617.35,987.76 612.71,991.94 614.01,998.04 608.6,994.92 603.19,998.04 604.49,991.94 599.85,987.76 606.06,987.1" fill="#808080"/>
<polygon points="599.4,989.5 601.94,995.2 608.15,995.86 603.51,1000.04 604.81,1006.14 599.4,1003.02 593.99,1006.14 595.29,1000.04 590.65,995.86 596.86,995.2" fill="#808080"/>
<polygon points="591.2,1011.2 593.74,1016.9 599.95,1017.56 595.31,1021.74 596.61,1027.84 591.2,1024.72 585.79,1027.84 587.09,1021.74 582.45,1017.56 588.66,1016.9" fill="#808080"/>
<polygon points="582.7,1023.2 585.24,1028.9 591.45,1029.56 586.81,1033.74 588.11,1039.84 582.7,1036.72 577.29,1039.84 578.59,1033.74 573.95,1029.56 580.16,1028.9" fill="#808080"/>
<polygon points="575.1,1039 577.64,1044.7 583.85,1045.36 579.21,1049.54 580.51,1055.64 575.1,1052.52 569.69,1055.64 570.99,1049.54 566.35,1045.36 572.56,1044.7" fill="#808080"/>
<polygon points="453.2,1246.4 460.21,1250.45 460.21,1258.55 453.2,1262.6 446.19,1258.55 446.19,1250.45" fill="#de2a1a"/>
</g>
<path d="M81 775L614 775" fill="none" stroke="#1a1a1a" stroke-width="1.8" stroke-dasharray="3.6 2.85"/>
<path d="M495.1 1070.6L495.1 1294.2" fill="none" stroke="#1a1a1a" stroke-width="1.8" stroke-dasharray="8 5.54"/>
<rect x="107.7" y="700.4" width="814.6" height="598.7" fill="none" stroke="#1a1a1a" stroke-width="2.9"/>
<path d="M173.25 700.4v10.8M173.25 1299.1v-10.8M266.9 700.4v10.8M266.9 1299.1v-10.8M360.55 700.4v10.8M360.55 1299.1v-10.8M454.2 700.4v10.8M454.2 1299.1v-10.8M547.85 700.4v10.8M547.85 1299.1v-10.8M641.5 700.4v10.8M641.5 1299.1v-10.8M735.15 700.4v10.8M735.15 1299.1v-10.8M828.8 700.4v10.8M828.8 1299.1v-10.8M126.42 700.4v5.6M126.42 1299.1v-5.6M220.07 700.4v5.6M220.07 1299.1v-5.6M313.72 700.4v5.6M313.72 1299.1v-5.6M407.38 700.4v5.6M407.38 1299.1v-5.6M501.02 700.4v5.6M501.02 1299.1v-5.6M594.67 700.4v5.6M594.67 1299.1v-5.6M688.33 700.4v5.6M688.33 1299.1v-5.6M781.98 700.4v5.6M781.98 1299.1v-5.6M875.62 700.4v5.6M875.62 1299.1v-5.6M107.7 775.15h10.8M922.3 775.15h-10.8M107.7 849.95h10.8M922.3 849.95h-10.8M107.7 924.75h10.8M922.3 924.75h-10.8M107.7 999.55h10.8M922.3 999.55h-10.8M107.7 1074.35h10.8M922.3 1074.35h-10.8M107.7 1149.15h10.8M922.3 1149.15h-10.8M107.7 1223.95h10.8M922.3 1223.95h-10.8M107.7 737.75h5.6M922.3 737.75h-5.6M107.7 812.55h5.6M922.3 812.55h-5.6M107.7 887.35h5.6M922.3 887.35h-5.6M107.7 962.15h5.6M922.3 962.15h-5.6M107.7 1036.95h5.6M922.3 1036.95h-5.6M107.7 1111.75h5.6M922.3 1111.75h-5.6M107.7 1186.55h5.6M922.3 1186.55h-5.6M107.7 1261.35h5.6M922.3 1261.35h-5.6" fill="none" stroke="#1a1a1a" stroke-width="2.5"/>
<text transform="translate(94.9 711.15) scale(1 1.06)" font-family='"Liberation Sans", sans-serif' font-size="33.6" fill="#1a1a1a" stroke="#1a1a1a" stroke-width="0.45" text-anchor="end">4</text>
<text transform="translate(94.9 785.95) scale(1 1.06)" font-family='"Liberation Sans", sans-serif' font-size="33.6" fill="#1a1a1a" stroke="#1a1a1a" stroke-width="0.45" text-anchor="end">2</text>
<text transform="translate(94.9 860.75) scale(1 1.06)" font-family='"Liberation Sans", sans-serif' font-size="33.6" fill="#1a1a1a" stroke="#1a1a1a" stroke-width="0.45" text-anchor="end">0</text>
<text transform="translate(94.9 935.55) scale(1 1.06)" font-family='"Liberation Sans", sans-serif' font-size="33.6" fill="#1a1a1a" stroke="#1a1a1a" stroke-width="0.45" text-anchor="end">-2</text>
<text transform="translate(94.9 1010.35) scale(1 1.06)" font-family='"Liberation Sans", sans-serif' font-size="33.6" fill="#1a1a1a" stroke="#1a1a1a" stroke-width="0.45" text-anchor="end">-4</text>
<text transform="translate(94.9 1085.15) scale(1 1.06)" font-family='"Liberation Sans", sans-serif' font-size="33.6" fill="#1a1a1a" stroke="#1a1a1a" stroke-width="0.45" text-anchor="end">-6</text>
<text transform="translate(94.9 1159.95) scale(1 1.06)" font-family='"Liberation Sans", sans-serif' font-size="33.6" fill="#1a1a1a" stroke="#1a1a1a" stroke-width="0.45" text-anchor="end">-8</text>
<text transform="translate(94.9 1234.75) scale(1 1.06)" font-family='"Liberation Sans", sans-serif' font-size="33.6" fill="#1a1a1a" stroke="#1a1a1a" stroke-width="0.45" text-anchor="end">-10</text>
<text transform="translate(94.9 1309.55) scale(1 1.06)" font-family='"Liberation Sans", sans-serif' font-size="33.6" fill="#1a1a1a" stroke="#1a1a1a" stroke-width="0.45" text-anchor="end">-12</text>
<text transform="translate(173.25 1337.6) scale(1 1.06)" font-family='"Liberation Sans", sans-serif' font-size="33.6" fill="#1a1a1a" stroke="#1a1a1a" stroke-width="0.45" text-anchor="middle">2.5</text>
<text transform="translate(266.9 1337.6) scale(1 1.06)" font-family='"Liberation Sans", sans-serif' font-size="33.6" fill="#1a1a1a" stroke="#1a1a1a" stroke-width="0.45" text-anchor="middle">3.0</text>
<text transform="translate(360.55 1337.6) scale(1 1.06)" font-family='"Liberation Sans", sans-serif' font-size="33.6" fill="#1a1a1a" stroke="#1a1a1a" stroke-width="0.45" text-anchor="middle">3.5</text>
<text transform="translate(454.2 1337.6) scale(1 1.06)" font-family='"Liberation Sans", sans-serif' font-size="33.6" fill="#1a1a1a" stroke="#1a1a1a" stroke-width="0.45" text-anchor="middle">4.0</text>
<text transform="translate(547.85 1337.6) scale(1 1.06)" font-family='"Liberation Sans", sans-serif' font-size="33.6" fill="#1a1a1a" stroke="#1a1a1a" stroke-width="0.45" text-anchor="middle">4.5</text>
<text transform="translate(641.5 1337.6) scale(1 1.06)" font-family='"Liberation Sans", sans-serif' font-size="33.6" fill="#1a1a1a" stroke="#1a1a1a" stroke-width="0.45" text-anchor="middle">5.0</text>
<text transform="translate(735.15 1337.6) scale(1 1.06)" font-family='"Liberation Sans", sans-serif' font-size="33.6" fill="#1a1a1a" stroke="#1a1a1a" stroke-width="0.45" text-anchor="middle">5.5</text>
<text transform="translate(828.8 1337.6) scale(1 1.06)" font-family='"Liberation Sans", sans-serif' font-size="33.6" fill="#1a1a1a" stroke="#1a1a1a" stroke-width="0.45" text-anchor="middle">6.0</text>
<text transform="translate(922.45 1337.6) scale(1 1.06)" font-family='"Liberation Sans", sans-serif' font-size="33.6" fill="#1a1a1a" stroke="#1a1a1a" stroke-width="0.45" text-anchor="middle">6.5</text>
<text transform="translate(24.2 1054.2) rotate(-90)" font-family='"Liberation Sans", sans-serif' font-size="34.5" fill="#1a1a1a" stroke="#1a1a1a" stroke-width="0.45">log(<tspan font-family='"Liberation Serif", serif' stroke-width="0.2">τ</tspan> [s])</text>
<text x="443.3" y="749.4" font-family='"Liberation Sans", sans-serif' font-size="30.4" fill="#1a1a1a" stroke="#1a1a1a" stroke-width="0.4">T<tspan font-size="21" dy="8">g</tspan></text>
<text x="502.5" y="749.4" font-family='"Liberation Sans", sans-serif' font-size="30.4" fill="#1a1a1a" stroke="#1a1a1a" stroke-width="0.45" text-anchor="start" word-spacing="-2.2">209 K</text>
<text x="515.7" y="1174.6" font-family='"Liberation Sans", sans-serif' font-size="30.4" fill="#1a1a1a" stroke="#1a1a1a" stroke-width="0.45" text-anchor="start" word-spacing="-2.2">237 K</text>
<rect x="156" y="800" width="65" height="41.5" fill="none" stroke="#1a1a1a" stroke-width="1.7"/>
<text x="161" y="831.2" font-family='"Liberation Sans", sans-serif' font-size="29.5" fill="#1a1a1a" stroke="#1a1a1a" stroke-width="0.45" text-anchor="start">BPh</text>
<text x="847.8" y="747.4" font-family='"Liberation Sans", sans-serif' font-size="43" fill="#1a1a1a" stroke="#1a1a1a" stroke-width="0.7" text-anchor="start">(b)</text>
<text x="615" y="1028.4" font-family='"Liberation Sans", sans-serif' font-size="29.3" fill="#808080" stroke="#808080" stroke-width="0.45" text-anchor="start">CM</text>
<text transform="translate(479.6 879.3) scale(1.06 1)" font-family='"DejaVu Serif", "Liberation Serif", serif' font-size="48" fill="#4750b0">α</text>
<text transform="translate(735.6 871) scale(1 1)" font-family='"DejaVu Serif", "Liberation Serif", serif' font-size="44.5" fill="#62cfd2">β</text>
<text transform="translate(839.2 1017.7) scale(0.88 1)" font-family='"DejaVu Serif", "Liberation Serif", serif' font-size="44.4" fill="#e6007e">γ</text>
<text x="429.2" y="1396" font-family='"Liberation Sans", sans-serif' font-size="33" fill="#1a1a1a" stroke="#1a1a1a" stroke-width="0.45">1000/T [K<tspan font-size="21.5" dy="-12.6">-1</tspan><tspan dy="12.6">]</tspan></text>
</g>
</svg>
</body></html>
